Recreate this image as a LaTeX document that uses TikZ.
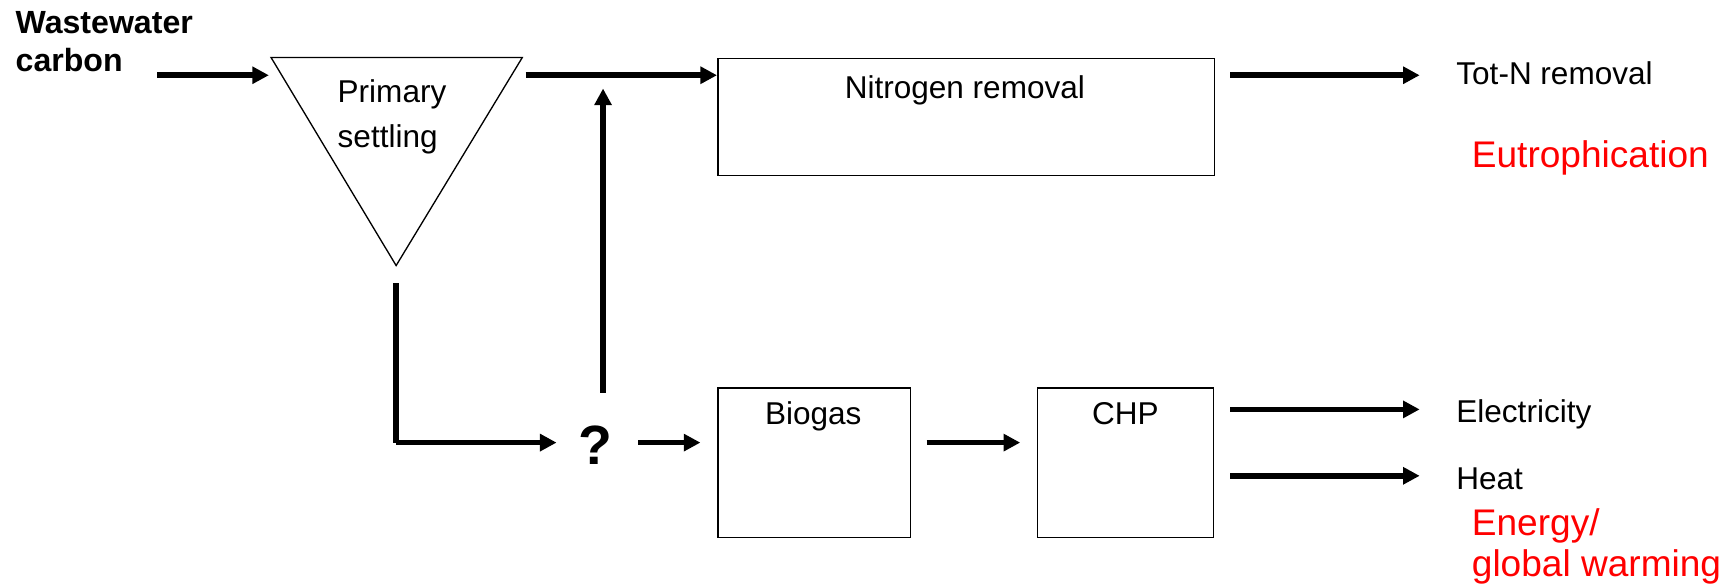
\documentclass[tikz,border=0pt]{standalone}
\usepackage{fontspec}
\setmainfont{Liberation Sans}
\usetikzlibrary{arrows.meta,calc}
\begin{document}
\begin{tikzpicture}[x=1pt,y=-1pt,
  flow/.style={line width=5pt,-{Triangle[length=15pt,width=15pt]}},
  unit/.style={draw,line width=1.4pt,inner sep=0pt,anchor=north west},
  lbl/.style={font=\fontsize{28.5}{34}\selectfont,inner sep=0pt},
  impact/.style={font=\fontsize{33.5}{38}\selectfont,text=red,inner sep=0pt,align=left}]
\useasboundingbox (0,0) rectangle (1568,531);

% process units
\coordinate (tl) at (245,52);
\coordinate (tr) at (472,52);
\coordinate (tb) at (358,240);
\draw[line width=1.2pt,line join=miter] (tl) -- (tr) -- (tb) -- cycle;
\node[lbl,anchor=base west] (ps) at (305,93) {Primary};
\node[lbl,anchor=base west] (ps2) at (305,133.5) {settling};

\node[unit,minimum width=449pt,minimum height=106pt] (nrem) at (648,52) {};
\node[lbl,anchor=base] (nremtxt) at (872,89) {Nitrogen removal};

\node[unit,minimum width=174pt,minimum height=135pt] (bio) at (648,350) {};
\node[lbl,anchor=base] (biotxt) at (735,384) {Biogas};

\node[unit,minimum width=159pt,minimum height=135pt] (chp) at (937,350) {};
\node[lbl,anchor=base] (chptxt) at (1017,384) {CHP};

\node[inner sep=0pt,font=\fontsize{50}{50}\selectfont\bfseries,anchor=base] (q) at (538,420) {?};

% inputs and outputs
\node[lbl,align=left,anchor=north west,font=\fontsize{29}{34}\selectfont\bfseries] (ww) at (14,10.5) {Wastewater\\carbon};
\node[lbl,anchor=base west] (totn) at (1316,76) {Tot-N removal};
\node[lbl,anchor=base west] (el) at (1316,382) {Electricity};
\node[lbl,anchor=base west] (heat) at (1316,442) {Heat};
\node[impact,anchor=base west] (eut) at (1330,151) {Eutrophication};
\node[impact,anchor=base west] (en) at (1330,484) {Energy/};
\node[impact,anchor=base west] (gw) at (1330,521) {global warming};

% connector ends
\coordinate (feed) at (142,68);
\coordinate (feedtip) at (243,68);
\coordinate (ovf) at (475,68);
\coordinate (sludge) at (358,256);
\coordinate (bend) at (358,400);
\coordinate (qin) at (503,400);
\coordinate (qout) at (577,400);
\coordinate (byp) at (545,355);
\coordinate (bypend) at (545,80);
\coordinate (nout) at (1112,68);
\coordinate (ntip) at (1283,68);
\coordinate (eout) at (1112,370);
\coordinate (etip) at (1283,370);
\coordinate (hout) at (1112,430);
\coordinate (htip) at (1283,430);

\draw[flow] (feed) -- (feedtip);
\draw[flow] (ovf) -- (nrem.west |- ovf);
\draw[flow] (byp) -- (bypend);
\draw[line width=5pt,line join=miter] (sludge) -- (bend);
\draw[flow] (bend) -- (qin);
\draw[flow] (qout) -- ($(bio.west |- qout)+(-15,0)$);
\draw[flow] ($(bio.east |- qout)+(14,0)$) -- ($(chp.west |- qout)+(-15,0)$);
\draw[flow] (nout) -- (ntip);
\draw[flow] (eout) -- (etip);
\draw[flow] (hout) -- (htip);
\end{tikzpicture}
\end{document}
